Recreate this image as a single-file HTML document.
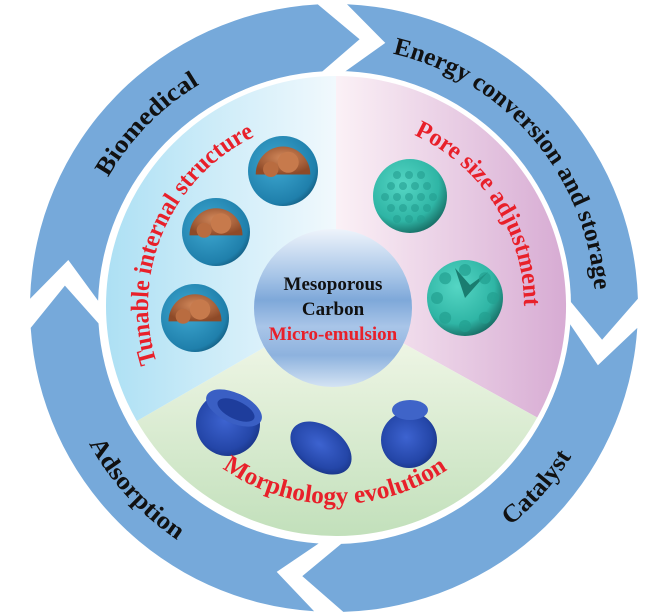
<!DOCTYPE html>
<html><head><meta charset="utf-8"><style>
html,body{margin:0;padding:0;background:#fff;width:660px;height:613px;overflow:hidden}
svg{display:block}
.ring{font-family:"Liberation Serif",serif;font-weight:bold;font-size:25px;fill:#111}
.red{font-family:"Liberation Serif",serif;font-weight:bold;font-size:25px;fill:#e8202a}
</style></head><body>
<svg id="s" width="660" height="613" viewBox="0 0 660 613" xmlns="http://www.w3.org/2000/svg">
<defs>
<linearGradient id="gL" x1="0" y1="0" x2="1" y2="0"><stop offset="0" stop-color="#ade0f4"/><stop offset="1" stop-color="#f1f9fd"/></linearGradient>
<linearGradient id="gR" x1="0" y1="0" x2="1" y2="0"><stop offset="0" stop-color="#fbf1f6"/><stop offset="1" stop-color="#d7abd3"/></linearGradient>
<linearGradient id="gB" x1="0" y1="0" x2="0" y2="1"><stop offset="0" stop-color="#f6f9ec"/><stop offset="1" stop-color="#c2e0bb"/></linearGradient>
<linearGradient id="gC" x1="0" y1="0" x2="0" y2="1"><stop offset="0" stop-color="#eef4fb"/><stop offset="0.3" stop-color="#a6c4e7"/><stop offset="0.45" stop-color="#7ea8d9"/><stop offset="0.62" stop-color="#a9c5e8"/><stop offset="0.8" stop-color="#8db2de"/><stop offset="1" stop-color="#d4e3f3"/></linearGradient>
<radialGradient id="gT" cx="0.4" cy="0.35" r="0.7"><stop offset="0" stop-color="#55d6c4"/><stop offset="0.7" stop-color="#2fb5a5"/><stop offset="1" stop-color="#15675f"/></radialGradient>
<radialGradient id="gM" cx="0.4" cy="0.4" r="0.7"><stop offset="0" stop-color="#3fa9d2"/><stop offset="0.8" stop-color="#1f7fab"/><stop offset="1" stop-color="#0f4f70"/></radialGradient>
<radialGradient id="gBr" cx="0.5" cy="0.4" r="0.6"><stop offset="0" stop-color="#d48a5c"/><stop offset="1" stop-color="#8e4a28"/></radialGradient>
<radialGradient id="gD" cx="0.45" cy="0.45" r="0.65"><stop offset="0" stop-color="#3d63d0"/><stop offset="0.7" stop-color="#2446a8"/><stop offset="1" stop-color="#152d78"/></radialGradient>
</defs>
<g id="ringg"></g>
<g id="disk"></g>
<g id="txt"></g>
</svg>
<script>
var NS="http://www.w3.org/2000/svg";
var cx=334,cy=308,Ro=304,Ri=236,Rm=270;
function P(r,a,x0,y0){x0=x0===undefined?cx:x0;y0=y0===undefined?cy:y0;var t=a*Math.PI/180;return [(x0+r*Math.sin(t)).toFixed(1),(y0-r*Math.cos(t)).toFixed(1)];}
function el(tag,attrs,parent,text){var e=document.createElementNS(NS,tag);for(var k in attrs)e.setAttribute(k,attrs[k]);if(text)e.textContent=text;parent.appendChild(e);return e;}
var rg=document.getElementById('ringg');
var gaps=[-0.3,91,181,269,359.7],g=5.5,d=8.5;
for(var i=0;i<4;i++){
 var s=gaps[i]+g/2,e=gaps[i+1]-g/2;
 var a=P(Ro,s),b=P(Ro,e),tip=P(Rm,e+d),c=P(Ri,e),dd=P(Ri,s),n=P(Rm,s+d);
 var p="M"+a+" A"+Ro+" "+Ro+" 0 0 1 "+b+" L"+tip+" L"+c+" A"+Ri+" "+Ri+" 0 0 0 "+dd+" L"+n+" Z";
 el('path',{d:p,fill:'#76a9da'},rg);
}
var dk=document.getElementById('disk');
var dx=336,dy=306,R=230;
el('circle',{cx:dx,cy:dy,r:R+5,fill:'#fff'},dk);
function sector(a1,a2,fill){var A=P(R,a1,dx,dy),B=P(R,a2,dx,dy);var large=(a2-a1)>180?1:0;
 el('path',{d:"M"+dx+" "+dy+" L"+A+" A"+R+" "+R+" 0 "+large+" 1 "+B+" Z",fill:fill},dk);}
sector(0,119,'url(#gR)');sector(119,240,'url(#gB)');sector(240,360,'url(#gL)');
el('circle',{cx:333,cy:308,r:79,fill:'url(#gC)'},dk);
function mesh(x,y,r){el('circle',{cx:x,cy:y,r:r,fill:'url(#gM)'},dk);
 el('path',{d:"M"+(x-r*0.78)+" "+(y+r*0.1)+" A"+(r*0.78)+" "+(r*0.8)+" 0 0 1 "+(x+r*0.78)+" "+(y+r*0.1)+" Z",fill:'url(#gBr)'},dk);
 el('circle',{cx:x+r*0.15,cy:y-r*0.25,r:r*0.3,fill:'#c77a4c'},dk);
 el('circle',{cx:x-r*0.35,cy:y-r*0.05,r:r*0.22,fill:'#b96c40'},dk);}
mesh(283,171,35);mesh(216,232,34);mesh(195,318,34);
el('circle',{cx:410,cy:196,r:37,fill:'url(#gT)'},dk);
for(var k=0;k<5;k++)for(var m=0;m<5;m++){var px=385+k*12+(m%2)*6,py=175+m*11;if((px-410)*(px-410)+(py-196)*(py-196)<900)el('circle',{cx:px,cy:py,r:4,fill:'#239d8f',opacity:0.6},dk);}
el('circle',{cx:465,cy:298,r:38,fill:'url(#gT)'},dk);
el('path',{d:"M465 298 L455 268 L470 285 L488 272 Z",fill:'#1a7d70'},dk);
for(var k=0;k<8;k++){var q=P(28,k*45,465,298);el('circle',{cx:q[0],cy:q[1],r:6,fill:'#22a090',opacity:0.7},dk);}
el('circle',{cx:228,cy:424,r:32,fill:'url(#gD)'},dk);
el('ellipse',{cx:234,cy:408,rx:30,ry:15,fill:'#3a5fc4',transform:'rotate(25 234 408)'},dk);
el('ellipse',{cx:236,cy:410,rx:20,ry:9,fill:'#1e3d9c',transform:'rotate(25 236 410)'},dk);
el('ellipse',{cx:321,cy:448,rx:34,ry:22,fill:'url(#gD)',transform:'rotate(35 321 448)'},dk);
el('circle',{cx:409,cy:440,r:28,fill:'url(#gD)'},dk);
el('ellipse',{cx:410,cy:410,rx:18,ry:10,fill:'#3f64c8'},dk);
var tg=document.getElementById('txt');
el('text',{x:333,y:290,'text-anchor':'middle','font-family':'Liberation Serif, serif','font-weight':'bold','font-size':'19',fill:'#111'},tg,'Mesoporous');
el('text',{x:333,y:315,'text-anchor':'middle','font-family':'Liberation Serif, serif','font-weight':'bold','font-size':'19',fill:'#111'},tg,'Carbon');
el('text',{x:333,y:340,'text-anchor':'middle','font-family':'Liberation Serif, serif','font-weight':'bold','font-size':'19',fill:'#e8202a'},tg,'Micro-emulsion');
var pid=0;
function arcText(str,r,a1,a2,x0,y0,cls){
 var cw=a2>a1;var A=P(r,a1,x0,y0),B=P(r,a2,x0,y0);var span=Math.abs(a2-a1);
 var id='tp'+(pid++);
 el('path',{id:id,d:"M"+A+" A"+r+" "+r+" 0 "+(span>180?1:0)+" "+(cw?1:0)+" "+B,fill:'none'},tg);
 var t=el('text',{'class':cls},tg);
 el('textPath',{href:'#'+id,startOffset:'0',textLength:(span*Math.PI/180*r).toFixed(1),lengthAdjust:'spacingAndGlyphs'},t,str);
}
arcText('Biomedical',261,-60,-31,cx,cy,'ring');
arcText('Energy conversion and storage',261,13,86,cx,cy,'ring');
arcText('Catalyst',280,141,122,cx,cy,'ring');
arcText('Adsorption',280,241,214,cx,cy,'ring');
arcText('Tunable internal structure',188,-107.5,-25.7,dx,dy,'red');
arcText('Pore size adjustment',188,24.5,90,dx,dy,'red');
arcText('Morphology evolution',198,215,145.7,dx,dy,'red');
</script>
</body></html>
